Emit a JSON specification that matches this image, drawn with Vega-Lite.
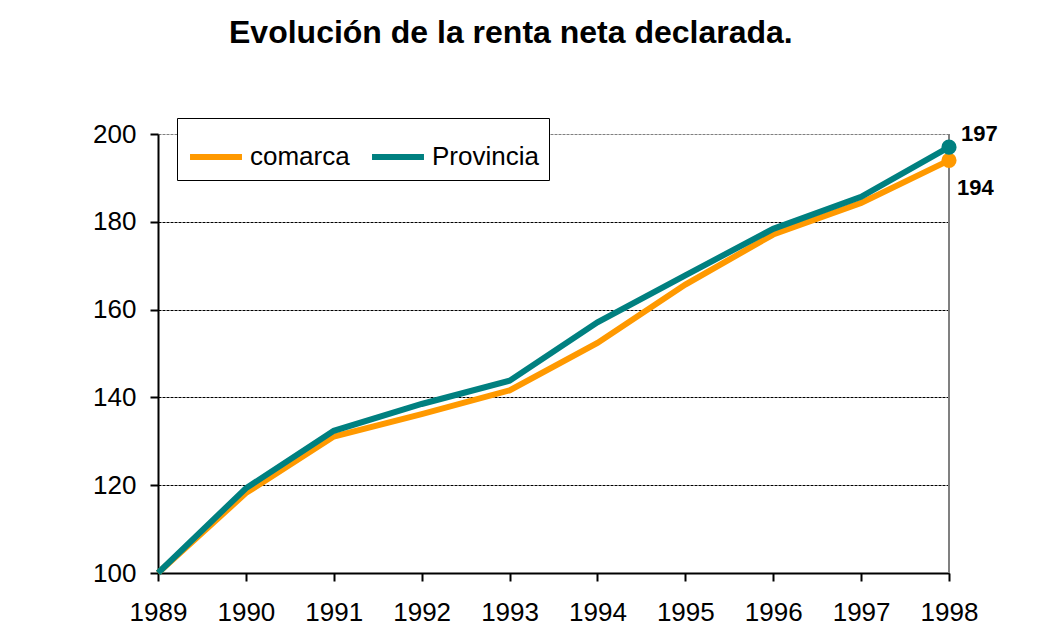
{
  "$schema": "https://vega.github.io/schema/vega-lite/v6.json",
  "width": 791,
  "height": 439,
  "autosize": {"type": "none"},
  "padding": {"left": 158, "top": 134, "right": 108, "bottom": 57},
  "background": "white",
  "config": {
    "font": "Liberation Sans",
    "view": {"stroke": null},
    "axis": {
      "domainColor": "black",
      "domainWidth": 2,
      "tickColor": "black",
      "tickWidth": 2,
      "tickSize": 8,
      "labelColor": "black",
      "labelFont": "Liberation Sans",
      "labelFontSize": 26,
      "title": null
    }
  },
  "title": {
    "text": "Evolución de la renta neta declarada.",
    "font": "Liberation Sans",
    "fontSize": 32,
    "fontWeight": "bold",
    "color": "black",
    "anchor": "start",
    "frame": "group",
    "dx": 71,
    "baseline": "alphabetic",
    "offset": 43
  },
  "data": {
    "values": [
      {"year": 1989, "serie": "comarca", "valor": 100},
      {"year": 1990, "serie": "comarca", "valor": 118.2},
      {"year": 1991, "serie": "comarca", "valor": 131.1},
      {"year": 1992, "serie": "comarca", "valor": 136.2},
      {"year": 1993, "serie": "comarca", "valor": 141.6},
      {"year": 1994, "serie": "comarca", "valor": 152.4},
      {"year": 1995, "serie": "comarca", "valor": 165.7},
      {"year": 1996, "serie": "comarca", "valor": 177.1},
      {"year": 1997, "serie": "comarca", "valor": 184.3},
      {"year": 1998, "serie": "comarca", "valor": 194.0},
      {"year": 1989, "serie": "Provincia", "valor": 100},
      {"year": 1990, "serie": "Provincia", "valor": 119.3},
      {"year": 1991, "serie": "Provincia", "valor": 132.4},
      {"year": 1992, "serie": "Provincia", "valor": 138.5},
      {"year": 1993, "serie": "Provincia", "valor": 143.8},
      {"year": 1994, "serie": "Provincia", "valor": 157.1},
      {"year": 1995, "serie": "Provincia", "valor": 167.8},
      {"year": 1996, "serie": "Provincia", "valor": 178.4},
      {"year": 1997, "serie": "Provincia", "valor": 185.7},
      {"year": 1998, "serie": "Provincia", "valor": 197.0}
    ]
  },
  "encoding": {
    "x": {
      "field": "year",
      "type": "quantitative",
      "scale": {"domain": [1989, 1998], "nice": false, "zero": false},
      "axis": {
        "values": [1989, 1990, 1991, 1992, 1993, 1994, 1995, 1996, 1997, 1998],
        "format": "d",
        "grid": false,
        "labelPadding": 18,
        "labelFlush": false,
        "labelOverlap": false
      }
    },
    "y": {
      "field": "valor",
      "type": "quantitative",
      "scale": {"domain": [100, 200], "nice": false, "zero": false},
      "axis": {
        "values": [100, 120, 140, 160, 180, 200],
        "grid": true,
        "gridColor": {"condition": {"test": "datum.value == 200", "value": "#808080"}, "value": "black"},
        "gridDash": [3, 1],
        "gridWidth": 1,
        "labelPadding": 14
      }
    }
  },
  "layer": [
    {
      "mark": {"type": "rule", "color": "#808080", "strokeWidth": 1.5},
      "encoding": {
        "x": {"datum": 1998, "type": "quantitative"},
        "y": {"datum": 100, "type": "quantitative"},
        "y2": {"datum": 200}
      }
    },
    {
      "mark": {"type": "line", "strokeWidth": 6, "strokeJoin": "miter"},
      "encoding": {
        "color": {
          "field": "serie",
          "type": "nominal",
          "sort": ["comarca", "Provincia"],
          "scale": {"domain": ["comarca", "Provincia"], "range": ["#FF9900", "#008080"]},
          "legend": {
            "title": null,
            "orient": "none",
            "legendX": 19,
            "legendY": -16,
            "direction": "horizontal",
            "strokeColor": "black",
            "fillColor": "white",
            "padding": 10,
            "symbolType": "stroke",
            "symbolSize": 2700,
            "symbolStrokeWidth": 6,
            "labelFontSize": 26,
            "labelFont": "Liberation Sans",
            "labelColor": "black",
            "labelOffset": 5,
            "columnPadding": 10
          }
        }
      }
    },
    {
      "transform": [{"filter": "datum.year == 1998"}],
      "mark": {"type": "point", "filled": true, "size": 230, "opacity": 1, "shape": "circle"},
      "encoding": {
        "fill": {
          "field": "serie",
          "type": "nominal",
          "scale": {"domain": ["comarca", "Provincia"], "range": ["#FF9900", "#008080"]},
          "legend": null
        }
      }
    },
    {
      "transform": [{"filter": "datum.year == 1998 && datum.serie == 'Provincia'"}],
      "mark": {"type": "text", "align": "left", "baseline": "middle", "dx": 12, "dy": -13, "fontSize": 22, "fontWeight": "bold", "color": "black", "font": "Liberation Sans"},
      "encoding": {"text": {"field": "valor", "type": "quantitative", "format": ".0f"}}
    },
    {
      "transform": [{"filter": "datum.year == 1998 && datum.serie == 'comarca'"}],
      "mark": {"type": "text", "align": "left", "baseline": "middle", "dx": 8, "dy": 28, "fontSize": 22, "fontWeight": "bold", "color": "black", "font": "Liberation Sans"},
      "encoding": {"text": {"field": "valor", "type": "quantitative", "format": ".0f"}}
    }
  ]
}
